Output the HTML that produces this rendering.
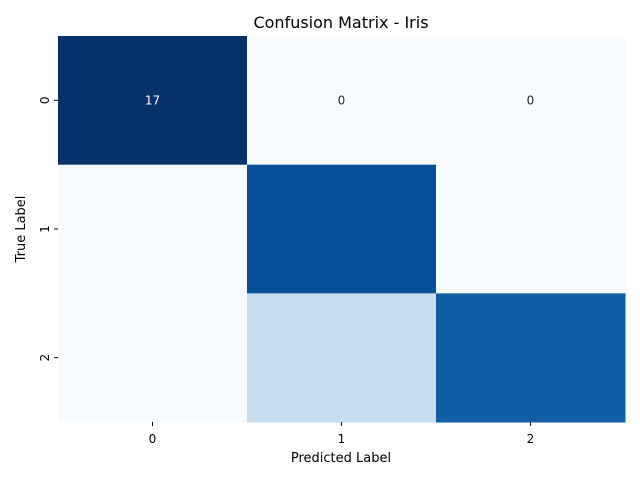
<!DOCTYPE html>
<html><head><meta charset="utf-8"><style>
body{margin:0;background:#fff;font-family:"Liberation Sans","DejaVu Sans",sans-serif}
svg text{font-family:"DejaVu Sans","Liberation Sans",sans-serif}
</style></head><body>
<svg id="chart" width="640" height="480" xmlns="http://www.w3.org/2000/svg">
<text x="341" y="28" text-anchor="middle" font-size="16">Confusion Matrix - Iris</text>
<text x="341" y="462" text-anchor="middle" font-size="13">Predicted Label</text>
<text transform="translate(25,229) rotate(-90)" text-anchor="middle" font-size="13">True Label</text>
<g id="cells"></g><g id="ticks"></g>
</svg>
<script>
const categories = ["0","1","2"];
const row0 = [17,0,0];
const row1 = [0,15,0];
const row2 = [0,4,14];
const annotateRows = [true,false,false];
const matrix=[row0,row1,row2];
const L=58,R=625,T=36,B=422;
const n=categories.length, cw=(R-L)/n, ch=(B-T)/n;
const xPos=j=>L+j*cw, yPos=i=>T+i*ch;
const stops=[[0,"#f7fbff"],[.125,"#deebf7"],[.25,"#c6dbef"],[.375,"#9ecae1"],[.5,"#6baed6"],[.625,"#4292c6"],[.75,"#2171b5"],[.875,"#08519c"],[1,"#08306b"]];
function hx(c){return [1,3,5].map(k=>parseInt(c.substr(k,2),16));}
function blues(t){t=Math.max(0,Math.min(1,t));for(let k=1;k<stops.length;k++){if(t<=stops[k][0]){const a=stops[k-1],b=stops[k],f=(t-a[0])/(b[0]-a[0]);const ca=hx(a[1]),cb=hx(b[1]);return "rgb("+ca.map((v,i)=>Math.round(v+(cb[i]-v)*f)).join(",")+")";}}return stops[8][1];}
const vmax=Math.max(...matrix.flat()), vmin=Math.min(...matrix.flat());
const NS="http://www.w3.org/2000/svg";
const cells=document.getElementById("cells"), ticks=document.getElementById("ticks");
matrix.forEach((row,i)=>row.forEach((v,j)=>{
 const t=(v-vmin)/(vmax-vmin||1);
 const r=document.createElementNS(NS,"rect");
 r.setAttribute("x",xPos(j));r.setAttribute("y",yPos(i));r.setAttribute("width",cw+0.5);r.setAttribute("height",ch+0.5);
 r.setAttribute("fill",blues(t));
 
 
 cells.appendChild(r);
 if(annotateRows[i]){
  const tx=document.createElementNS(NS,"text");
  tx.setAttribute("x",xPos(j)+cw/2);tx.setAttribute("y",yPos(i)+ch/2+4);tx.setAttribute("text-anchor","middle");tx.setAttribute("font-size","12");
  tx.setAttribute("fill",t>0.5?"#fff":"#262626");tx.textContent=v;
  
  
  cells.appendChild(tx);
 }
}));
categories.forEach((c,k)=>{
 const x=xPos(k)+cw/2;
 const l=document.createElementNS(NS,"line");l.setAttribute("x1",x);l.setAttribute("x2",x);l.setAttribute("y1",B);l.setAttribute("y2",B+4);l.setAttribute("stroke","#000");
 
 
 ticks.appendChild(l);
 const t=document.createElementNS(NS,"text");t.setAttribute("x",x);t.setAttribute("y",B+21);t.setAttribute("text-anchor","middle");t.setAttribute("font-size","12");t.textContent=c;
 
 
 ticks.appendChild(t);
 const y=yPos(k)+ch/2;
 const l2=document.createElementNS(NS,"line");l2.setAttribute("x1",L-4);l2.setAttribute("x2",L);l2.setAttribute("y1",y);l2.setAttribute("y2",y);l2.setAttribute("stroke","#000");
 
 
 ticks.appendChild(l2);
 const t2=document.createElementNS(NS,"text");t2.setAttribute("transform","translate("+(L-9)+","+y+") rotate(-90)");t2.setAttribute("text-anchor","middle");t2.setAttribute("font-size","12");t2.textContent=c;
 
 
 ticks.appendChild(t2);
});
</script>
</body></html>
